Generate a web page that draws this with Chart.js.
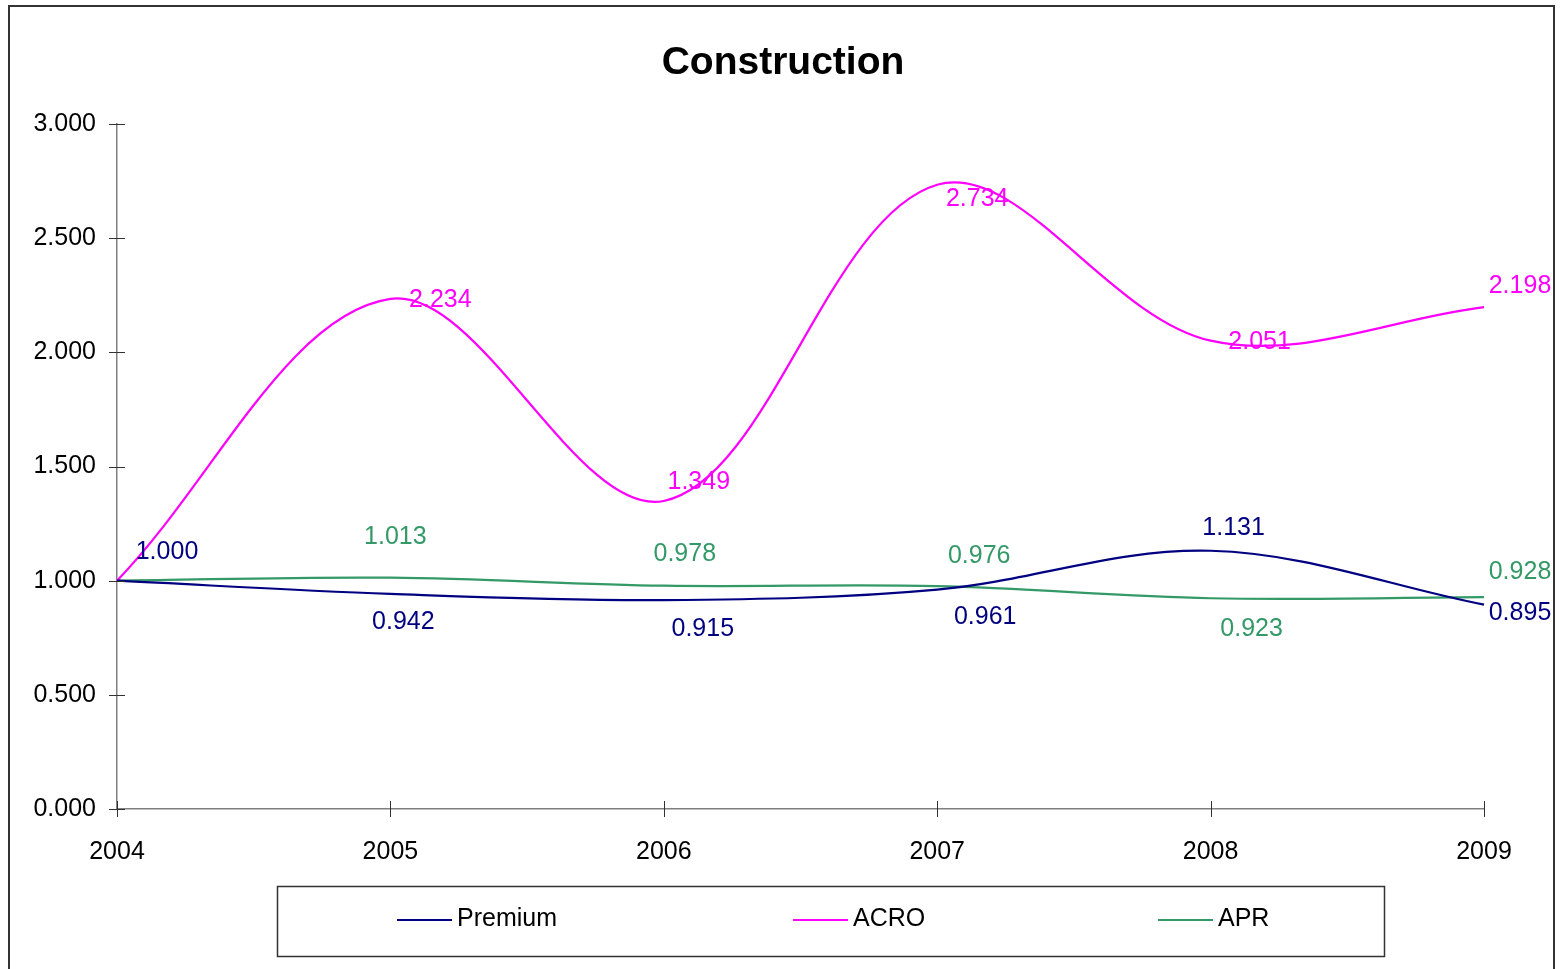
<!DOCTYPE html>
<html>
<head>
<meta charset="utf-8">
<title>Construction</title>
<script src="https://cdn.jsdelivr.net/npm/chart.js@4/dist/chart.umd.min.js"></script>
<style>
  html, body { margin: 0; padding: 0; background: #ffffff; }
  #wrap { position: relative; width: 1565px; height: 969px; }
</style>
</head>
<body>
<div id="wrap"><canvas id="chart" width="1565" height="969"></canvas></div>
<script>
// ---- data ----
const years = ['2004', '2005', '2006', '2007', '2008', '2009'];
const premium = [1.000, 0.942, 0.915, 0.961, 1.131, 0.895];
const acro    = [1.000, 2.234, 1.349, 2.734, 2.051, 2.198];
const apr     = [1.000, 1.013, 0.978, 0.976, 0.923, 0.928];
const yTicks  = [0, 0.5, 1.0, 1.5, 2.0, 2.5, 3.0];

// where each value label sits relative to its point (px); null = no label
const premiumLabelPos = [[50, -29], [13, 28], [39, 29], [48, 28], [23, -23], [36, 8]];
const acroLabelPos    = [null, [50, 1], [35, -19], [40, 14], [49, 1], [36, -21]];
const aprLabelPos     = [null, [5, -41], [21, -32], [42, -30], [41, 31], [36, -25]];

const FONT = '"Liberation Sans", Arial, Helvetica, sans-serif';
const COLORS = { premium: '#000080', acro: '#FF00FF', apr: '#339966' };

// frame, title, crossing tick marks, value labels and boxed legend
const decorations = {
  id: 'decorations',
  afterDraw(chart) {
    const ctx = chart.ctx;
    const ca = chart.chartArea;
    const xs = chart.scales.x, ys = chart.scales.y;
    ctx.save();

    // outer frame (open at the bottom edge of the page)
    ctx.strokeStyle = '#333333';
    ctx.lineWidth = 2;
    ctx.beginPath();
    ctx.moveTo(9, 975); ctx.lineTo(9, 6); ctx.lineTo(1554, 6); ctx.lineTo(1554, 975);
    ctx.stroke();

    // title
    ctx.fillStyle = '#000000';
    ctx.font = 'bold 39px ' + FONT;
    ctx.textAlign = 'center';
    ctx.textBaseline = 'middle';
    ctx.fillText('Construction', 783, 63);

    // tick marks crossing the axes
    ctx.strokeStyle = '#333333';
    ctx.lineWidth = 1;
    ctx.beginPath();
    yTicks.forEach(v => {
      const y = Math.round(ys.getPixelForValue(v)) + 0.5;
      ctx.moveTo(ca.left - 8, y); ctx.lineTo(ca.left + 8, y);
    });
    years.forEach((_, i) => {
      const x = Math.round(xs.getPixelForValue(i)) + 0.5;
      ctx.moveTo(x, ca.bottom - 8); ctx.lineTo(x, ca.bottom + 8);
    });
    ctx.stroke();

    // value labels
    ctx.font = '25px ' + FONT;
    ctx.textAlign = 'center';
    ctx.textBaseline = 'middle';
    const sets = [premiumLabelPos, acroLabelPos, aprLabelPos];
    chart.data.datasets.forEach((ds, di) => {
      const meta = chart.getDatasetMeta(di);
      ctx.fillStyle = ds.borderColor;
      ds.data.forEach((v, i) => {
        const off = sets[di][i];
        if (!off) return;
        const pt = meta.data[i];
        ctx.fillText(v.toFixed(3), pt.x + off[0], pt.y + off[1]);
      });
    });

    // legend box
    ctx.strokeStyle = '#333333';
    ctx.lineWidth = 1.5;
    ctx.strokeRect(277.5, 886.5, 1107, 70);
    const legendX = [397, 793, 1158];
    ctx.font = '25px ' + FONT;
    ctx.textAlign = 'left';
    ctx.textBaseline = 'middle';
    chart.data.datasets.forEach((ds, di) => {
      const lx = legendX[di];
      ctx.strokeStyle = ds.borderColor;
      ctx.lineWidth = 2;
      ctx.beginPath();
      ctx.moveTo(lx, 920); ctx.lineTo(lx + 55, 920);
      ctx.stroke();
      ctx.fillStyle = '#000000';
      ctx.fillText(ds.label, lx + 60, 919);
    });

    ctx.restore();
  }
};

const lineStyle = { borderWidth: 2.2, pointRadius: 0, tension: 0.35, fill: false };

new Chart(document.getElementById('chart'), {
  type: 'line',
  data: {
    labels: years,
    datasets: [
      Object.assign({ label: 'Premium', data: premium, borderColor: COLORS.premium }, lineStyle),
      Object.assign({ label: 'ACRO', data: acro, borderColor: COLORS.acro }, lineStyle),
      Object.assign({ label: 'APR', data: apr, borderColor: COLORS.apr }, lineStyle)
    ]
  },
  options: {
    responsive: false,
    animation: false,
    events: [],
    layout: { padding: { left: 0, top: 124, right: 81, bottom: 100 } },
    plugins: {
      legend: { display: false },
      title: { display: false },
      tooltip: { enabled: false }
    },
    scales: {
      x: {
        offset: false,
        grid: { display: false },
        border: { display: true, color: '#808080', width: 1.5 },
        ticks: { color: '#000000', font: { family: FONT, size: 25 }, padding: 20, maxRotation: 0, autoSkip: false },
        afterFit(scale) { scale.height = 60; }
      },
      y: {
        min: 0,
        max: 3,
        afterBuildTicks(scale) { scale.ticks = yTicks.map(v => ({ value: v })); },
        grid: { display: false },
        border: { display: true, color: '#808080', width: 1.5 },
        ticks: {
          color: '#000000',
          font: { family: FONT, size: 25 },
          padding: 13,
          callback: v => Number(v).toFixed(3)
        },
        afterFit(scale) { scale.width = 117; }
      }
    }
  },
  plugins: [decorations]
});
</script>
</body>
</html>
